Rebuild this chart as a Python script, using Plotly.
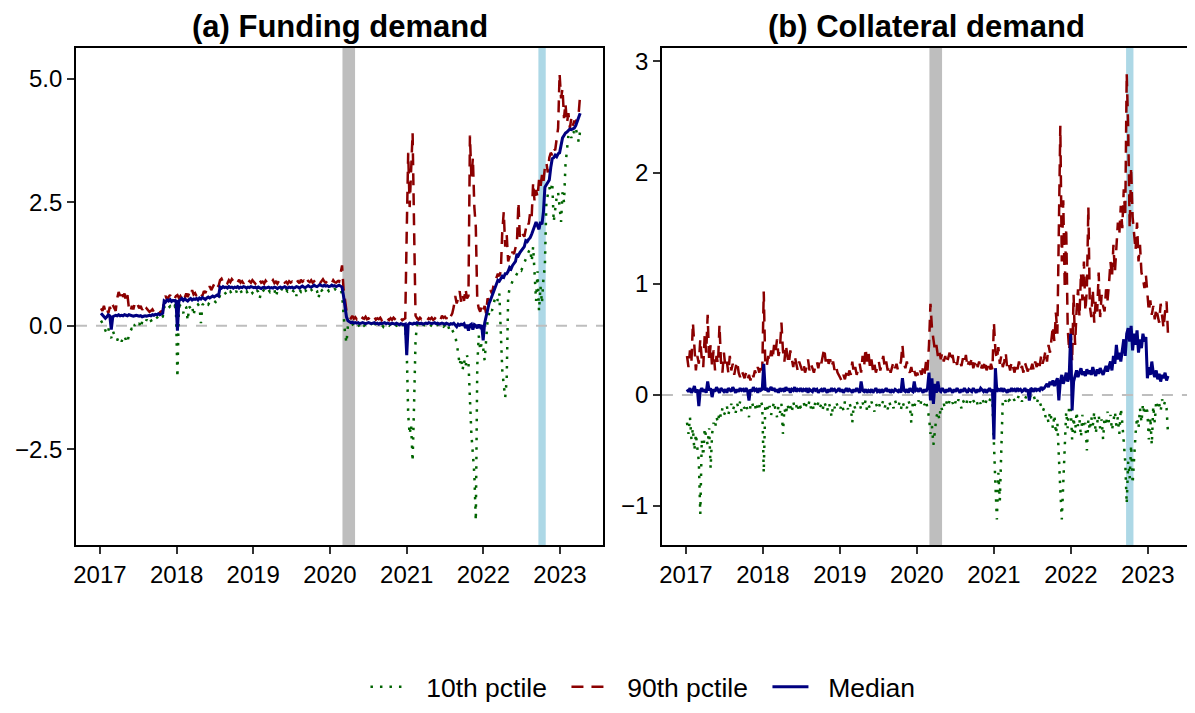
import pandas as pd
import plotly.graph_objects as go
from plotly.subplots import make_subplots

# weekly observations (Fridays), first one on 2017-01-06
start_date = "2017-01-06"

# ---- (a) Funding demand ----
fund_p10 = [
    # 2017
    0.10, 0.05, 0.00, -0.10, -0.15, -0.05, -0.20, -0.25, -0.10, -0.18, -0.25, -0.30, -0.22,
    -0.28, -0.32, -0.25, -0.20, -0.30, -0.35, -0.18, -0.12, -0.05, -0.10, 0.02, 0.05, 0.00,
    0.05, -0.05, 0.08, 0.10, 0.05, 0.12, 0.08, 0.15, 0.10, 0.12, 0.18, 0.14, 0.16,
    0.18, 0.15, 0.20, 0.17, 0.38, 0.34, 0.40, 0.36, 0.39, 0.33, 0.37, 0.40, 0.35,
    # 2018
    -1.05, 0.38, 0.40, 0.35, 0.25, 0.40, 0.37, 0.10, 0.39, 0.35, 0.41, 0.20, 0.38,
    0.40, 0.43, 0.39, 0.05, 0.42, 0.45, 0.41, 0.46, 0.43, 0.48, 0.45, 0.47, 0.50,
    0.48, 0.52, 0.50, 0.62, 0.66, 0.64, 0.68, 0.65, 0.60, 0.67, 0.69, 0.64, 0.68,
    0.66, 0.70, 0.63, 0.68, 0.71, 0.65, 0.69, 0.67, 0.70, 0.64, 0.68, 0.71, 0.66,
    # 2019
    0.70, 0.66, 0.72, 0.68, 0.55, 0.71, 0.69, 0.73, 0.67, 0.70, 0.72, 0.68, 0.71,
    0.69, 0.73, 0.58, 0.70, 0.72, 0.68, 0.74, 0.70, 0.66, 0.72, 0.69, 0.71, 0.67,
    0.72, 0.70, 0.74, 0.60, 0.71, 0.73, 0.69, 0.75, 0.70, 0.72, 0.68, 0.74, 0.71,
    0.73, 0.69, 0.72, 0.75, 0.70, 0.55, 0.74, 0.71, 0.73, 0.76, 0.72, 0.74, 0.70,
    # 2020
    0.73, 0.75, 0.71, 0.74, 0.72, 0.70, 0.74, 0.72, 0.65, 0.20, -0.15, -0.35, 0.00,
    0.02, -0.02, 0.03, 0.00, 0.04, 0.01, 0.03, -0.03, 0.02, 0.04, 0.00, 0.03, 0.01,
    0.03, 0.00, 0.04, -0.05, 0.02, 0.03, 0.01, 0.02, 0.00, 0.02, -0.02, 0.03, 0.01,
    0.02, 0.00, 0.03, 0.01, -0.03, 0.02, 0.00, 0.03, 0.01, -0.02, 0.02, 0.00, -0.05,
    # 2021
    -0.50, -1.80, -2.20, -2.00, -2.75, -1.60, -0.30, 0.02, 0.00, 0.03, 0.01, -0.02, 0.02,
    0.00, 0.03, 0.01, -0.02, 0.02, 0.00, 0.03, -0.01, 0.02, 0.00, -0.03, 0.01, -0.02,
    0.00, -0.05, 0.01, -0.08, -0.03, -0.10, -0.15, -0.20, -0.35, -0.55, -0.80, -0.65, -0.90,
    -0.70, -0.85, -0.60, -0.75, -1.50, -2.20, -2.60, -3.00, -3.95, -0.80, -0.20, -0.50, -0.35,
    # 2022
    -0.45, -0.70, -0.20, 0.10, 0.25, 0.35, 0.30, 0.45, 0.55, 0.60, 0.50, 0.65, -0.30,
    -0.90, -1.20, -1.45, -1.10, 0.60, 0.75, 0.85, 0.90, 0.95, 1.00, 1.05, 1.10, 1.15,
    1.12, 1.20, 1.25, 1.35, 1.40, 1.50, 1.55, 1.30, 1.60, 0.90, 0.50, 1.10, 0.30,
    0.80, 0.45, 0.95, 1.20, 2.50, 2.65, 2.80, 2.70, 2.90, 2.10, 2.40, 2.60, 2.70,
    # 2023
    2.40, 2.10, 2.70, 2.50, 3.25, 3.50, 3.85, 3.90, 3.80, 3.95, 3.90, 4.00, 3.85, 3.72, 3.95,
]

fund_p90 = [
    # 2017
    0.35, 0.30, 0.40, 0.28, 0.35, 0.25, 0.38, 0.30, 0.42, 0.35, 0.30, 0.55, 0.68,
    0.60, 0.72, 0.58, 0.65, 0.50, 0.62, 0.35, 0.28, 0.40, 0.33, 0.45, 0.38, 0.42,
    0.35, 0.40, 0.32, 0.38, 0.30, 0.35, 0.32, 0.28, 0.30, 0.33, 0.28, 0.30, 0.26,
    0.30, 0.27, 0.29, 0.28, 0.55, 0.60, 0.52, 0.58, 0.62, 0.55, 0.58, 0.54, 0.60,
    # 2018
    0.62, 0.56, 0.60, 0.54, 0.62, 0.57, 0.65, 0.58, 0.66, 0.60, 0.72, 0.63, 0.66,
    0.60, 0.66, 0.62, 0.64, 0.60, 0.70, 0.66, 0.74, 0.70, 0.80, 0.72, 0.78, 0.84,
    0.76, 0.82, 0.80, 0.92, 0.95, 0.88, 0.93, 0.90, 0.86, 0.92, 0.88, 0.94, 0.90,
    0.86, 0.91, 0.88, 0.93, 0.87, 0.90, 0.85, 0.92, 0.88, 0.86, 0.90, 0.87, 0.92,
    # 2019
    0.88, 0.85, 0.90, 0.86, 0.92, 0.87, 0.89, 0.85, 0.91, 0.87, 0.90, 0.86, 0.88,
    0.92, 0.86, 0.89, 0.85, 0.90, 0.88, 0.86, 0.91, 0.87, 0.89, 0.85, 0.90, 0.87,
    0.89, 0.86, 0.92, 0.88, 0.90, 0.86, 0.93, 0.89, 0.91, 0.87, 0.95, 0.90, 0.88,
    0.92, 0.87, 0.90, 0.93, 0.88, 0.91, 0.86, 0.90, 0.94, 0.89, 0.87, 0.91, 0.88,
    # 2020
    0.90, 0.86, 0.92, 0.88, 0.87, 0.90, 0.89, 1.05, 1.22, 0.75, 0.45, 0.30, 0.20,
    0.18, 0.15, 0.20, 0.14, 0.17, 0.13, 0.18, 0.15, 0.12, 0.16, 0.14, 0.18, 0.13,
    0.15, 0.12, 0.16, 0.13, 0.17, 0.12, 0.15, 0.13, 0.16, 0.11, 0.14, 0.17, 0.12,
    0.14, 0.11, 0.15, 0.12, 0.16, 0.13, 0.10, 0.14, 0.12, 0.15, 0.11, 0.13, 0.15,
    # 2021
    1.90, 3.50, 2.40, 3.10, 3.90, 2.00, 0.20, 0.15, 0.12, 0.16, 0.13, 0.15, 0.12,
    0.14, 0.11, 0.15, 0.13, 0.16, 0.12, 0.14, 0.18, 0.13, 0.15, 0.12, 0.20, 0.16,
    0.18, 0.14, 0.22, 0.16, 0.19, 0.25, 0.38, 0.60, 0.45, 0.55, 0.70, 0.48, 0.62,
    0.50, 0.75, 0.55, 0.60, 3.85, 3.00, 3.40, 2.40, 2.00, 0.50, 0.35, 0.28, 0.40,
    # 2022
    0.30, 0.40, 0.25, 0.55, 0.50, 0.72, 0.65, 0.80, 0.90, 1.00, 1.05, 1.00, 1.10,
    1.90, 2.30, 1.60, 1.85, 1.30, 1.40, 1.35, 1.50, 1.45, 1.55, 1.70, 2.50, 1.75,
    1.75, 1.85, 1.80, 2.00, 2.10, 2.05, 2.30, 2.20, 2.90, 2.50, 2.75, 2.60, 2.95,
    2.80, 3.05, 2.90, 3.20, 3.30, 3.10, 3.40, 3.50, 3.45, 3.60, 3.55, 3.80, 4.00,
    # 2023
    5.10, 4.60, 4.80, 4.20, 4.50, 4.10, 4.30, 4.00, 4.20, 4.05, 4.15, 4.10, 4.25, 4.30, 4.68,
]

fund_med = [
    # 2017
    0.25, 0.22, 0.20, 0.15, 0.18, 0.22, 0.20, -0.08, 0.18, 0.20, 0.21, 0.20, 0.22,
    0.20, 0.21, 0.20, 0.22, 0.21, 0.20, 0.22, 0.21, 0.20, 0.19, 0.20, 0.21, 0.20,
    0.19, 0.20, 0.18, 0.19, 0.20, 0.19, 0.20, 0.21, 0.20, 0.22, 0.21, 0.23, 0.22,
    0.24, 0.22, 0.23, 0.25, 0.50, 0.48, 0.52, 0.50, 0.53, 0.49, 0.51, 0.50, 0.52,
    # 2018
    -0.10, 0.50, 0.52, 0.55, 0.51, 0.54, 0.52, 0.50, 0.53, 0.55, 0.52, 0.54, 0.53,
    0.55, 0.52, 0.56, 0.54, 0.57, 0.55, 0.53, 0.56, 0.58, 0.56, 0.59, 0.60, 0.58,
    0.60, 0.62, 0.60, 0.78, 0.76, 0.79, 0.77, 0.78, 0.76, 0.79, 0.77, 0.78, 0.76,
    0.78, 0.77, 0.79, 0.76, 0.78, 0.77, 0.79, 0.78, 0.76, 0.78, 0.77, 0.79, 0.78,
    # 2019
    0.77, 0.78, 0.76, 0.78, 0.77, 0.75, 0.77, 0.78, 0.76, 0.77, 0.78, 0.76, 0.77,
    0.76, 0.78, 0.77, 0.75, 0.77, 0.78, 0.76, 0.77, 0.79, 0.77, 0.76, 0.78, 0.77,
    0.78, 0.76, 0.77, 0.79, 0.78, 0.76, 0.78, 0.80, 0.78, 0.77, 0.79, 0.81, 0.79,
    0.78, 0.80, 0.82, 0.80, 0.79, 0.81, 0.83, 0.81, 0.80, 0.82, 0.80, 0.81, 0.79,
    # 2020
    0.80, 0.82, 0.80, 0.81, 0.79, 0.80, 0.82, 0.80, 0.78, 0.60, 0.35, 0.18, 0.10,
    0.08, 0.06, 0.07, 0.05, 0.06, 0.05, 0.06, 0.04, 0.05, 0.06, 0.05, 0.04, 0.05,
    0.06, 0.05, 0.04, 0.05, 0.06, 0.04, 0.05, 0.03, 0.05, 0.04, 0.05, 0.06, 0.04,
    0.05, 0.04, 0.03, 0.05, 0.04, 0.03, 0.05, 0.04, 0.02, 0.04, 0.03, 0.02, 0.03,
    # 2021
    -0.60, 0.02, 0.05, 0.04, 0.03, 0.05, 0.04, 0.06, 0.05, 0.04, 0.05, 0.03, 0.04,
    0.05, 0.04, 0.06, 0.05, 0.04, 0.05, 0.06, 0.04, 0.05, 0.03, 0.04, 0.05, 0.04,
    0.03, 0.05, 0.04, 0.02, 0.04, 0.03, 0.05, 0.02, -0.02, 0.03, 0.01, 0.03, 0.02,
    0.04, -0.05, 0.02, -0.10, 0.01, 0.03, -0.08, 0.02, 0.00, -0.05, 0.02, -0.03, 0.01,
    # 2022
    -0.30, 0.05, 0.20, 0.30, 0.45, 0.52, 0.60, 0.68, 0.79, 0.85, 0.92, 0.90, 0.95,
    1.00, 0.98, 1.05, 1.05, 1.10, 1.18, 1.15, 1.22, 1.25, 1.30, 1.45, 1.42, 1.48,
    1.52, 1.55, 1.60, 1.72, 1.70, 1.75, 1.78, 1.85, 1.95, 2.05, 2.10, 2.02, 1.95,
    2.10, 2.05, 2.30, 2.80, 2.85, 2.90, 2.95, 3.20, 3.38, 3.40, 3.45, 3.42, 3.48,
    # 2023
    3.50, 3.65, 3.80, 3.85, 3.90, 3.92, 3.95, 3.98, 3.97, 3.99, 4.00, 4.05, 4.15, 4.25, 4.30,
]

# ---- (b) Collateral demand ----
coll_p10 = [
    # 2017
    -0.25, -0.35, -0.20, -0.40, -0.30, -0.50, -0.35, -0.45, -0.60, -1.07, -0.40, -0.55, -0.30,
    -0.38, -0.45, -0.30, -0.66, -0.35, -0.25, -0.30, -0.20, -0.25, -0.15, -0.20, -0.12, -0.18,
    -0.15, -0.10, -0.18, -0.12, -0.08, -0.14, -0.10, -0.16, -0.08, -0.12, -0.06, -0.15, -0.10,
    -0.12, -0.08, -0.14, -0.20, -0.10, -0.06, -0.12, -0.09, -0.15, -0.07, -0.11, -0.05, -0.10,
    # 2018
    -0.70, -0.12, -0.08, -0.15, -0.10, -0.18, -0.12, -0.06, -0.14, -0.20, -0.10, -0.16, -0.08,
    -0.35, -0.12, -0.18, -0.08, -0.14, -0.10, -0.16, -0.06, -0.12, -0.09, -0.15, -0.07, -0.11,
    -0.10, -0.06, -0.13, -0.08, -0.11, -0.05, -0.12, -0.08, -0.14, -0.06, -0.10, -0.07, -0.12,
    -0.08, -0.13, -0.06, -0.10, -0.15, -0.07, -0.11, -0.20, -0.09, -0.12, -0.06, -0.10, -0.08,
    # 2019
    -0.12, -0.08, -0.14, -0.06, -0.10, -0.13, -0.07, -0.11, -0.25, -0.09, -0.12, -0.06, -0.10,
    -0.08, -0.13, -0.07, -0.11, -0.05, -0.14, -0.09, -0.12, -0.06, -0.10, -0.15, -0.08, -0.11,
    -0.07, -0.12, -0.09, -0.05, -0.11, -0.08, -0.13, -0.06, -0.10, -0.08, -0.12, -0.05, -0.09,
    -0.11, -0.07, -0.13, -0.06, -0.10, -0.08, -0.12, -0.05, -0.09, -0.25, -0.07, -0.11, -0.06,
    # 2020
    -0.08, -0.05, -0.10, -0.04, -0.07, -0.09, -0.05, -0.12, -0.20, -0.35, -0.28, -0.45, -0.30,
    -0.20, -0.15, -0.22, -0.10, -0.14, -0.08, -0.12, -0.06, -0.10, -0.05, -0.09, -0.07, -0.11,
    -0.06, -0.09, -0.04, -0.08, -0.12, -0.05, -0.07, -0.10, -0.04, -0.08, -0.06, -0.09, -0.05,
    -0.07, -0.04, -0.09, -0.05, -0.08, -0.03, -0.06, -0.10, -0.04, -0.07, -0.05, -0.03, -0.06,
    # 2021
    -0.50, -0.80, -1.12, -0.70, -0.95, -0.45, -0.05, -0.03, -0.06, -0.02, -0.05, -0.04, -0.01,
    -0.03, -0.05, -0.02, -0.04, 0.00, -0.03, -0.06, -0.02, -0.04, -0.01, -0.05, -0.03, -0.02,
    -0.04, -0.01, -0.05, -0.08, -0.03, -0.06, -0.10, -0.15, -0.12, -0.20, -0.18, -0.25, -0.15,
    -0.22, -0.30, -0.18, -0.35, -0.25, -0.60, -0.85, -1.12, -0.75, -0.40, -0.15, -0.30, -0.10,
    # 2022
    -0.10, -0.40, -0.20, -0.35, -0.15, -0.28, -0.22, -0.38, -0.18, -0.30, -0.25, -0.50, -0.22,
    -0.32, -0.20, -0.28, -0.15, -0.35, -0.25, -0.18, -0.30, -0.22, -0.40, -0.20, -0.28, -0.15,
    -0.25, -0.18, -0.32, -0.22, -0.15, -0.28, -0.20, -0.35, -0.12, -0.25, -0.45, -0.60, -0.98,
    -0.60, -0.75, -0.45, -0.80, -0.50, -0.35, -0.20, -0.30, -0.12, -0.25, -0.08, -0.18, -0.10,
    # 2023
    -0.15, -0.40, -0.20, -0.45, -0.10, -0.25, -0.05, -0.12, -0.08, -0.15, -0.04, -0.10, -0.06, -0.12, -0.35,
]

coll_p90 = [
    # 2017
    0.35, 0.25, 0.40, 0.30, 0.65, 0.45, 0.22, 0.35, 0.28, 0.50, 0.32, 0.25, 0.54,
    0.38, 0.72, 0.30, 0.45, 0.25, 0.40, 0.22, 0.35, 0.28, 0.63, 0.30, 0.20, 0.38,
    0.25, 0.30, 0.20, 0.35, 0.22, 0.28, 0.18, 0.25, 0.30, 0.20, 0.16, 0.22, 0.18,
    0.15, 0.20, 0.14, 0.18, 0.13, 0.20, 0.16, 0.22, 0.18, 0.25, 0.20, 0.28, 0.22,
    # 2018
    0.93, 0.30, 0.25, 0.35, 0.30, 0.40, 0.32, 0.45, 0.38, 0.50, 0.35, 0.42, 0.65,
    0.40, 0.30, 0.45, 0.35, 0.28, 0.40, 0.32, 0.25, 0.35, 0.28, 0.22, 0.30, 0.25,
    0.22, 0.28, 0.20, 0.25, 0.32, 0.22, 0.28, 0.24, 0.20, 0.26, 0.30, 0.24, 0.32,
    0.28, 0.35, 0.42, 0.30, 0.36, 0.28, 0.32, 0.25, 0.30, 0.22, 0.26, 0.20, 0.18,
    # 2019
    0.15, 0.12, 0.18, 0.14, 0.20, 0.15, 0.22, 0.18, 0.30, 0.20, 0.25, 0.18, 0.22,
    0.28, 0.20, 0.35, 0.25, 0.42, 0.30, 0.38, 0.25, 0.32, 0.22, 0.28, 0.20, 0.26,
    0.30, 0.22, 0.28, 0.35, 0.25, 0.30, 0.22, 0.27, 0.20, 0.25, 0.30, 0.24, 0.28,
    0.22, 0.26, 0.30, 0.45, 0.28, 0.24, 0.30, 0.22, 0.20, 0.25, 0.18, 0.22, 0.17,
    # 2020
    0.20, 0.16, 0.22, 0.18, 0.25, 0.19, 0.30, 0.22, 0.45, 0.82, 0.60, 0.50, 0.40,
    0.45, 0.35, 0.40, 0.32, 0.38, 0.30, 0.35, 0.28, 0.33, 0.38, 0.30, 0.36, 0.28,
    0.32, 0.27, 0.35, 0.30, 0.26, 0.33, 0.28, 0.36, 0.25, 0.30, 0.27, 0.34, 0.24,
    0.28, 0.32, 0.25, 0.30, 0.22, 0.27, 0.24, 0.31, 0.22, 0.26, 0.20, 0.28, 0.23,
    # 2021
    0.65, 0.40, 0.32, 0.43, 0.28, 0.35, 0.25, 0.30, 0.38, 0.24, 0.28, 0.22, 0.30,
    0.25, 0.20, 0.28, 0.23, 0.30, 0.22, 0.26, 0.20, 0.29, 0.24, 0.21, 0.27, 0.23,
    0.28, 0.22, 0.30, 0.25, 0.32, 0.26, 0.35, 0.28, 0.33, 0.40, 0.30, 0.45, 0.38,
    0.50, 0.62, 0.48, 0.74, 0.55, 1.40, 2.42, 1.20, 1.75, 0.96, 1.50, 0.60, 0.40,
    # 2022
    0.60, 0.30, 0.90, 0.45, 0.75, 0.95, 0.70, 1.10, 0.85, 1.20, 0.75, 0.95, 1.69,
    0.80, 0.70, 0.95, 0.65, 0.85, 0.75, 1.10, 0.70, 0.90, 0.80, 0.75, 0.95, 0.85,
    1.00, 1.20, 1.05, 1.35, 1.10, 1.30, 1.55, 1.45, 1.70, 1.50, 1.85, 1.60, 2.89,
    2.40, 1.50, 2.05, 1.60, 1.45, 1.30, 1.55, 1.20, 1.35, 1.10, 1.05, 0.96, 1.08,
    # 2023
    0.90, 0.75, 0.85, 0.72, 0.80, 0.68, 0.78, 0.72, 0.65, 0.82, 0.70, 0.60, 0.75, 0.84, 0.54,
]

coll_med = [
    # 2017
    0.05, 0.03, 0.06, 0.02, 0.04, 0.08, 0.02, 0.05, -0.10, 0.04, 0.06, 0.03, 0.05,
    0.02, 0.12, 0.04, 0.06, -0.02, 0.05, 0.03, 0.07, 0.04, 0.02, 0.06, 0.04, 0.03,
    0.05, 0.02, 0.06, 0.04, 0.03, 0.07, 0.04, 0.02, 0.05, 0.03, 0.06, 0.04, 0.05,
    0.03, 0.06, 0.04, -0.05, 0.05, 0.03, 0.07, 0.04, 0.05, 0.02, 0.06, 0.04, 0.05,
    # 2018
    0.28, 0.04, 0.06, 0.03, 0.05, 0.07, 0.04, 0.06, 0.03, 0.05, 0.02, 0.06, 0.04,
    0.05, 0.03, 0.07, 0.04, 0.06, 0.02, 0.05, 0.04, 0.07, 0.03, 0.05, 0.04, 0.06,
    0.03, 0.05, 0.04, 0.06, 0.02, 0.05, 0.04, 0.03, 0.06, 0.04, 0.05, 0.02, 0.04,
    0.05, 0.03, 0.06, 0.04, 0.02, 0.05, 0.03, 0.06, 0.04, 0.05, 0.03, 0.04, 0.06,
    # 2019
    0.03, 0.05, 0.02, 0.04, 0.06, 0.03, 0.05, 0.04, 0.02, 0.05, 0.03, 0.06, 0.04,
    0.02, 0.12, 0.04, 0.03, 0.05, 0.02, 0.04, 0.03, 0.05, 0.02, 0.04, 0.06, 0.03,
    0.04, 0.02, 0.05, 0.03, 0.04, 0.06, 0.03, 0.05, 0.02, 0.04, 0.03, 0.05, 0.04,
    0.03, 0.05, 0.02, 0.15, 0.04, 0.03, 0.05, 0.02, 0.06, 0.04, 0.03, 0.12, 0.04,
    # 2020
    0.05, 0.03, 0.06, 0.04, 0.02, 0.05, 0.03, 0.06, 0.20, -0.05, 0.15, -0.08, 0.10,
    0.02, 0.12, 0.04, 0.03, 0.06, 0.04, 0.02, 0.05, 0.03, 0.06, 0.04, 0.02, 0.05,
    0.03, 0.06, 0.04, 0.02, 0.05, 0.03, 0.06, 0.04, 0.02, 0.05, 0.04, 0.03, 0.06,
    0.04, 0.02, 0.05, 0.03, 0.06, 0.04, 0.03, 0.05, 0.02, 0.04, 0.06, 0.03, 0.05,
    # 2021
    -0.40, 0.24, 0.03, 0.05, 0.04, 0.06, 0.03, 0.05, 0.04, 0.02, 0.05, 0.03, 0.06,
    0.04, 0.05, 0.03, 0.06, 0.04, 0.05, 0.03, 0.04, 0.06, 0.03, 0.05, -0.05, 0.06,
    0.05, 0.03, 0.06, 0.04, 0.05, 0.04, 0.07, 0.05, 0.06, 0.08, 0.10, 0.07, 0.12,
    0.09, 0.13, 0.08, 0.11, 0.15, -0.05, 0.12, 0.18, 0.10, 0.14, 0.20, 0.12, 0.16,
    # 2022
    0.55, -0.14, 0.12, 0.18, 0.22, 0.16, 0.20, 0.24, 0.18, 0.21, 0.17, 0.23, 0.19,
    0.22, 0.18, 0.25, 0.20, 0.17, 0.23, 0.19, 0.24, 0.20, 0.18, 0.22, 0.26, 0.21,
    0.25, 0.30, 0.22, 0.35, 0.28, 0.45, 0.32, 0.38, 0.30, 0.42, 0.50, 0.35, 0.55,
    0.60, 0.48, 0.62, 0.40, 0.55, 0.45, 0.58, 0.38, 0.50, 0.42, 0.55, 0.48, 0.52,
    # 2023
    0.15, 0.25, 0.18, 0.30, 0.20, 0.16, 0.22, 0.14, 0.19, 0.12, 0.18, 0.15, 0.20, 0.13, 0.17,
]

series_names = ["10th pctile", "90th pctile", "Median"]
series_colors = ["#006400", "#8B0000", "#000080"]
series_dash = ["2.5px,7px", "12px,8px", "solid"]
series_width = [2.5, 2.5, 3]

panel_titles = ["(a) Funding demand", "(b) Collateral demand"]
panels = [[fund_p10, fund_p90, fund_med], [coll_p10, coll_p90, coll_med]]

stress_periods = [("2020-03-01", "2020-04-30", "#BEBEBE"),
                  ("2022-09-20", "2022-10-25", "#ADD8E6")]

font_family = "Liberation Sans, Arial, Helvetica, sans-serif"
gap = "\u00a0\u00a0"  # small gap between legend key and its label

fig = make_subplots(rows=1, cols=2)

for col, series in enumerate(panels, start=1):
    for i, vals in enumerate(series):
        dates = pd.date_range(start_date, periods=len(vals), freq="7D")
        fig.add_trace(go.Scatter(x=dates, y=vals, mode="lines",
                                 name=gap + series_names[i],
                                 showlegend=(col == 1),
                                 legendgroup=series_names[i],
                                 line=dict(color=series_colors[i], width=series_width[i],
                                           dash=series_dash[i])),
                      row=1, col=col)
    for x0, x1, colr in stress_periods:
        fig.add_vrect(x0=x0, x1=x1, fillcolor=colr, opacity=1, line_width=0,
                      layer="below", row=1, col=col)
    fig.add_hline(y=0, line=dict(color="#BEBEBE", width=2, dash="11px,9px"),
                  layer="below", row=1, col=col)

axis_style = dict(showline=True, linecolor="black", linewidth=1.6, mirror=True,
                  ticks="outside", ticklen=7, tickwidth=1.5, tickcolor="#333333",
                  showgrid=False, zeroline=False,
                  tickfont=dict(size=24, color="black", family=font_family))

xaxis_style = dict(axis_style, type="date", range=["2016-09-09", "2023-07-25"],
                   tick0="2017-01-01", dtick="M12", tickformat="%Y")

# page body adds an 8px offset, so the figure is made a little smaller
fig.update_layout(
    width=1187, height=705,
    margin=dict(l=68, r=2, t=40, b=162),
    plot_bgcolor="white", paper_bgcolor="white",
    font=dict(family=font_family, color="black"),
    xaxis=dict(xaxis_style, domain=[0, 0.4727]),
    xaxis2=dict(xaxis_style, domain=[0.5255, 1]),
    yaxis=dict(axis_style, range=[-4.44, 5.62], tickvals=[-2.5, 0, 2.5, 5],
               tickformat=".1f"),
    yaxis2=dict(axis_style, range=[-1.35, 3.12], tickvals=[-1, 0, 1, 2, 3]),
    legend=dict(orientation="h", x=0.530, xanchor="center", y=-0.286, yanchor="middle",
                itemwidth=36, entrywidth=150,
                font=dict(size=26.5, color="black"), bgcolor="rgba(0,0,0,0)"),
    annotations=[
        dict(text="<b>%s</b>" % panel_titles[0], xref="x domain", x=0.5, yref="paper",
             y=1.0427, yanchor="middle", showarrow=False, font=dict(size=31)),
        dict(text="<b>%s</b>" % panel_titles[1], xref="x2 domain", x=0.5, yref="paper",
             y=1.0427, yanchor="middle", showarrow=False, font=dict(size=31)),
    ],
)

fig.write_html("out.html")
